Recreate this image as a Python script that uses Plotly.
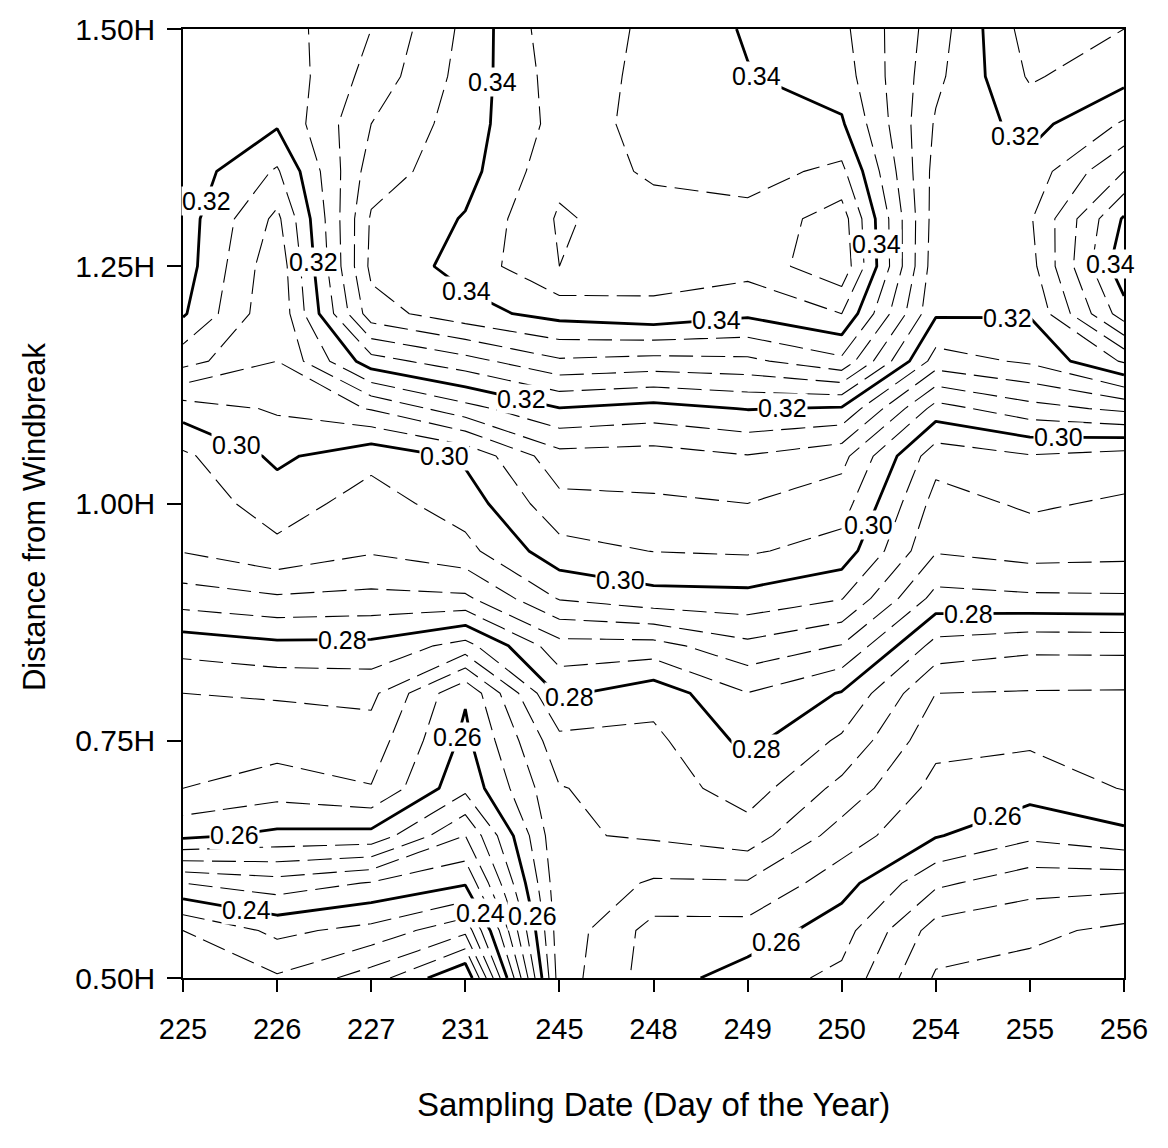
import plotly.graph_objects as go

# Sampling dates (day of year) shown as evenly spaced categories
dates = ["225", "226", "227", "231", "245", "248", "249", "250", "254", "255", "256"]
date_pos = list(range(len(dates)))

# Distance from the windbreak, in multiples of tree height H
distance = [0.50, 0.55, 0.60, 0.65, 0.70, 0.75, 0.80, 0.85, 0.90, 0.95, 1.00,
            1.05, 1.10, 1.15, 1.20, 1.25, 1.30, 1.35, 1.40, 1.45, 1.50]
dist_ticks = [0.50, 0.75, 1.00, 1.25, 1.50]
dist_labels = ["0.50H", "0.75H", "1.00H", "1.25H", "1.50H"]

# Soil water content profiles, one list per sampling date (bottom to top)
day225 = [0.228, 0.232, 0.244, 0.261, 0.268, 0.270, 0.272, 0.2775, 0.286, 0.2922, 0.2937,
          0.2952, 0.302, 0.3135, 0.3205, 0.322, 0.322, 0.3225, 0.3225, 0.323, 0.323]
day226 = [0.2315, 0.237, 0.2463, 0.259, 0.266, 0.2698, 0.2724, 0.279, 0.2874, 0.2950, 0.2978,
          0.3009, 0.3045, 0.308, 0.3085, 0.309, 0.311, 0.3155, 0.3205, 0.321, 0.322]
day227 = [0.226, 0.2347, 0.2437, 0.2587, 0.2678, 0.2702, 0.2730, 0.2789, 0.2869, 0.2924, 0.2944,
          0.2971, 0.3083, 0.3223, 0.3343, 0.337, 0.3365, 0.334, 0.332, 0.3295, 0.328]
day231 = [0.216, 0.229, 0.2405, 0.248, 0.257, 0.2590, 0.2605, 0.2745, 0.2872, 0.2948, 0.2978,
          0.3008, 0.3145, 0.3265, 0.3385, 0.3415, 0.3403, 0.3385, 0.338, 0.3375, 0.337]
day245 = [0.270, 0.2705, 0.271, 0.2715, 0.2718, 0.2748, 0.2808, 0.2865, 0.2963, 0.3025, 0.3068,
          0.3106, 0.3198, 0.3314, 0.3415, 0.348, 0.3485, 0.347, 0.3455, 0.346, 0.347]
day248 = [0.262, 0.2625, 0.2675, 0.2725, 0.2738, 0.275, 0.2775, 0.2865, 0.2985, 0.3041, 0.3074,
          0.3102, 0.3185, 0.3306, 0.3428, 0.346, 0.346, 0.3432, 0.343, 0.343, 0.343]
day249 = [0.258, 0.2625, 0.2676, 0.2741, 0.278, 0.2811, 0.2839, 0.2909, 0.2987, 0.3045, 0.308,
          0.3118, 0.3202, 0.3311, 0.3408, 0.3455, 0.3452, 0.3425, 0.3415, 0.3402, 0.3396]
day250 = [0.255, 0.2577, 0.2617, 0.2662, 0.2708, 0.2753, 0.2797, 0.2878, 0.2962, 0.3024, 0.3058,
          0.3093, 0.3195, 0.335, 0.344, 0.351, 0.350, 0.345, 0.3405, 0.338, 0.337]
day254 = [0.2435, 0.2462, 0.2528, 0.2603, 0.2627, 0.2652, 0.268, 0.2745, 0.2826, 0.2883, 0.2905,
          0.2935, 0.3024, 0.3142, 0.3205, 0.3215, 0.322, 0.3225, 0.3235, 0.325, 0.326]
day255 = [0.2425, 0.2449, 0.2496, 0.2568, 0.2617, 0.2646, 0.2677, 0.273, 0.2832, 0.2897, 0.2926,
          0.2957, 0.3065, 0.3166, 0.3203, 0.3225, 0.3235, 0.3215, 0.3185, 0.3155, 0.314]
day256 = [0.241, 0.2431, 0.2493, 0.2589, 0.2642, 0.2658, 0.2676, 0.2731, 0.2834, 0.2893, 0.2914,
          0.2944, 0.3089, 0.3245, 0.3382, 0.343, 0.3405, 0.332, 0.3245, 0.3186, 0.316]

profiles = [day225, day226, day227, day231, day245, day248, day249, day250,
            day254, day255, day256]
z = [[p[i] for p in profiles] for i in range(len(distance))]

# labelled (heavy) isolines and where along each one its value is written:
# (value, approximate date position, approximate distance)
major_levels = [0.22, 0.24, 0.26, 0.28, 0.30, 0.32, 0.34]
label_spots = [
    (0.32, 0.30, 1.317), (0.32, 1.46, 1.255), (0.32, 3.61, 1.114), (0.32, 6.37, 1.099),
    (0.32, 8.76, 1.204), (0.32, 8.82, 1.384),
    (0.34, 3.52, 1.443), (0.34, 2.94, 1.210), (0.34, 5.67, 1.187), (0.34, 6.02, 1.442),
    (0.34, 7.47, 1.274), (0.34, 9.89, 1.252),
    (0.30, 0.60, 1.068), (0.30, 2.91, 1.072), (0.30, 4.63, 0.910), (0.30, 7.28, 0.978),
    (0.30, 9.31, 1.083),
    (0.28, 1.70, 0.855), (0.28, 4.13, 0.790), (0.28, 6.14, 0.737), (0.28, 8.35, 0.881),
    (0.26, 0.54, 0.656), (0.26, 2.87, 0.755), (0.26, 6.47, 0.508), (0.26, 8.70, 0.659),
    (0.26, 3.66, 0.564),
    (0.24, 0.69, 0.580), (0.24, 3.15, 0.568),
]

FONT = "Liberation Sans, Arial, sans-serif"
PLOT_W, PLOT_H = 941.0, 958.0
PX_PER_X = PLOT_W / (date_pos[-1] - date_pos[0])
PX_PER_Y = PLOT_H / (distance[-1] - distance[0])


def isoline_segments(level):
    """Straight pieces of one isoline, cell by cell, as the contour trace draws them."""
    segs = []
    for j in range(len(distance) - 1):
        for i in range(len(date_pos) - 1):
            corners = [(date_pos[i], distance[j], z[j][i]),
                       (date_pos[i + 1], distance[j], z[j][i + 1]),
                       (date_pos[i + 1], distance[j + 1], z[j + 1][i + 1]),
                       (date_pos[i], distance[j + 1], z[j + 1][i])]
            pts = []
            for a in range(4):
                xa, ya, za = corners[a]
                xb, yb, zb = corners[(a + 1) % 4]
                if (za < level) != (zb < level):
                    t = (level - za) / (zb - za)
                    pts.append((xa + t * (xb - xa), ya + t * (yb - ya)))
            for k in range(0, len(pts) - 1, 2):
                segs.append((pts[k], pts[k + 1]))
    return segs


def nearest_on_isoline(level, px, py):
    best, best_d = None, None
    for (x0, y0), (x1, y1) in isoline_segments(level):
        dx, dy = (x1 - x0) * PX_PER_X, (y1 - y0) * PX_PER_Y
        qx, qy = (px - x0) * PX_PER_X, (py - y0) * PX_PER_Y
        L2 = dx * dx + dy * dy
        t = 0.0 if L2 == 0 else max(0.0, min(1.0, (qx * dx + qy * dy) / L2))
        cx, cy = x0 + t * (x1 - x0), y0 + t * (y1 - y0)
        d = ((cx - px) * PX_PER_X) ** 2 + ((cy - py) * PX_PER_Y) ** 2
        if best_d is None or d < best_d:
            best, best_d = (cx, cy), d
    return best


fig = go.Figure()

# thin dashed intermediate isolines, every 0.004 between the heavy ones
for offset in [0.004, 0.008, 0.012, 0.016]:
    fig.add_trace(go.Contour(
        x=date_pos, y=distance, z=z,
        contours=dict(start=0.20 + offset, end=0.36, size=0.02,
                      coloring="none", showlabels=False),
        line=dict(color="black", width=1.1, dash="24px,8px", smoothing=0),
        showscale=False, hoverinfo="skip",
    ))

# heavy isolines every 0.02
fig.add_trace(go.Contour(
    x=date_pos, y=distance, z=z,
    contours=dict(start=major_levels[0], end=major_levels[-1], size=0.02,
                  coloring="none", showlabels=False),
    line=dict(color="black", width=2.8, smoothing=0),
    showscale=False, hoverinfo="skip",
))

# value labels sitting on the heavy isolines (white box breaks the line)
for level, gx, gy in label_spots:
    spot = nearest_on_isoline(level, gx, gy)
    if spot is None:
        continue
    fig.add_annotation(x=spot[0], y=spot[1], xref="x", yref="y",
                       text=f"{level:.2f}", showarrow=False,
                       bgcolor="white", borderpad=0,
                       font=dict(size=25, family=FONT, color="black"))

fig.update_layout(
    width=1168, height=1148,
    margin=dict(l=183, r=44, t=20, b=170),
    paper_bgcolor="white", plot_bgcolor="white",
    showlegend=False,
    font=dict(family=FONT, color="black"),
)
fig.update_xaxes(
    range=[0, 10], tickvals=date_pos, ticktext=dates,
    ticks="outside", ticklen=12, tickwidth=1.5, tickcolor="black",
    showline=True, mirror=True, linecolor="black", linewidth=1.5,
    showgrid=False, zeroline=False,
    tickfont=dict(size=29, family=FONT, color="black"),
    ticklabelstandoff=12,
)
fig.update_yaxes(
    range=[0.5, 1.5], tickvals=dist_ticks, ticktext=dist_labels,
    ticks="outside", ticklen=14, tickwidth=1.5, tickcolor="black",
    showline=True, mirror=True, linecolor="black", linewidth=1.5,
    showgrid=False, zeroline=False,
    tickfont=dict(size=30, family=FONT, color="black"),
    ticklabelstandoff=6, ticklabeloverflow="allow",
)

fig.add_annotation(text="Sampling Date (Day of the Year)", xref="paper", yref="paper",
                   x=0.5, y=-0.133, xanchor="center", yanchor="middle", showarrow=False,
                   font=dict(size=33, family=FONT, color="black"))
fig.add_annotation(text="Distance from Windbreak", xref="paper", yref="paper",
                   x=-0.157, y=0.486, xanchor="center", yanchor="middle", showarrow=False,
                   textangle=-90, font=dict(size=31, family=FONT, color="black"))

fig.write_html("out.html")
